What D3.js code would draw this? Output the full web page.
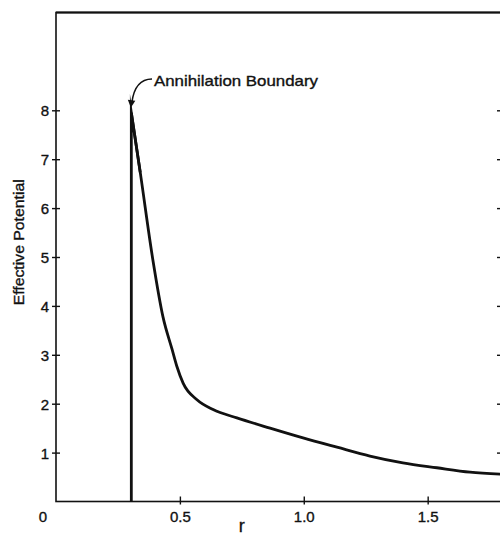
<!DOCTYPE html>
<html>
<head>
<meta charset="utf-8">
<script src="https://cdn.jsdelivr.net/npm/d3@7"></script>
<style>
html,body{margin:0;padding:0;background:#fff;overflow:hidden;}
svg{display:block;}
text{font-family:"Liberation Sans",Arial,sans-serif;fill:#111;stroke:#111;stroke-width:0.35;}
</style>
</head>
<body>
<svg id="chart" width="500" height="538"></svg>
<script>
// Data
const rValues = [0.304, 0.304, 0.340, 0.391, 0.432, 0.468, 0.488, 0.513, 0.569, 0.634, 0.730, 0.864, 0.997, 1.134, 1.267, 1.400, 1.537, 1.671, 1.800];
const potentialValues = [0.0, 7.95, 6.73, 4.94, 3.77, 3.12, 2.76, 2.42, 2.08, 1.88, 1.71, 1.50, 1.30, 1.11, 0.93, 0.79, 0.69, 0.60, 0.56];
const xTickValues = [0.5, 1.0, 1.5];
const xTickLabels = ["0.5", "1.0", "1.5"];
const yTickValues = [1, 2, 3, 4, 5, 6, 7, 8];
const yTickLabels = ["1", "2", "3", "4", "5", "6", "7", "8"];
const xTitle = "r";
const yTitle = "Effective Potential";
const annotationText = "Annihilation Boundary";

const svg = d3.select("#chart");
const x = d3.scaleLinear().domain([0, 1.8]).range([56, 502]);
const y = d3.scaleLinear().domain([0, 10]).range([501.5, 12.5]);

const ink = "#111";

// frame
svg.append("rect")
  .attr("x", x(0)).attr("y", y(10))
  .attr("width", x(1.8) - x(0)).attr("height", y(0) - y(10))
  .attr("fill", "none").attr("stroke", ink).attr("stroke-width", 1.6);
svg.append("line")
  .attr("x1", x(0)).attr("x2", 500).attr("y1", y(10)).attr("y2", y(10))
  .attr("stroke", ink).attr("stroke-width", 2.2);

// left axis
const yAxis = d3.axisLeft(y).tickValues(yTickValues)
  .tickFormat((d, i) => yTickLabels[i]).tickSizeOuter(0).tickSize(4).tickPadding(4);
const gy = svg.append("g").attr("transform", `translate(${x(0)},0)`).call(yAxis);
gy.select(".domain").remove();
gy.selectAll(".tick line").attr("x1", -4).attr("x2", 4).attr("stroke", ink).attr("stroke-width", 1.4);
gy.selectAll(".tick text").attr("font-size", 15).attr("fill", ink).attr("dy", "0.36em")
  .attr("font-family", "Liberation Sans, Arial, sans-serif").attr("x", -7);

// right ticks
const yAxisR = d3.axisRight(y).tickValues(yTickValues).tickFormat("").tickSize(4);
const gyr = svg.append("g").attr("transform", `translate(${x(1.8)},0)`).call(yAxisR);
gyr.select(".domain").remove();
gyr.selectAll(".tick line").attr("x1", -5).attr("x2", 0).attr("stroke", ink).attr("stroke-width", 1.4);

// bottom axis
const xAxis = d3.axisBottom(x).tickValues(xTickValues)
  .tickFormat((d, i) => xTickLabels[i]).tickSizeOuter(0).tickSize(4).tickPadding(8);
const gx = svg.append("g").attr("transform", `translate(0,${y(0)})`).call(xAxis);
gx.select(".domain").remove();
gx.selectAll(".tick line").attr("y1", -5).attr("y2", 3).attr("stroke", ink).attr("stroke-width", 1.4);
gx.selectAll(".tick text").attr("font-size", 15).attr("fill", ink)
  .attr("font-family", "Liberation Sans, Arial, sans-serif").attr("y", 10);

// origin label
svg.append("text").attr("x", 43).attr("y", 522).attr("text-anchor", "middle")
  .attr("font-size", 15).text("0");

// axis titles
svg.append("text").attr("x", x(0.75)).attr("y", 532).attr("text-anchor", "middle")
  .attr("font-size", 18).text(xTitle);
svg.append("text")
  .attr("transform", `translate(24,${y(5.3)}) rotate(-90)`)
  .attr("text-anchor", "middle").attr("font-size", 14)
  .attr("textLength", 126).attr("lengthAdjust", "spacingAndGlyphs")
  .text(yTitle);

// curve: vertical boundary segment + descending potential
const pts = rValues.map((r, i) => [r, potentialValues[i]]);
svg.append("path")
  .attr("d", d3.line().x(d => x(d[0])).y(d => y(d[1]))(pts.slice(0, 3)))
  .attr("fill", "none").attr("stroke", ink).attr("stroke-width", 2.8)
  .attr("stroke-linejoin", "miter").attr("stroke-miterlimit", 20);
svg.append("path")
  .attr("d", d3.line().x(d => x(d[0])).y(d => y(d[1])).curve(d3.curveMonotoneX)(pts.slice(1)))
  .attr("fill", "none").attr("stroke", ink).attr("stroke-width", 2.8)
  .attr("stroke-linecap", "butt");

// annotation
const peakX = x(rValues[1]), peakY = y(potentialValues[1]);
svg.append("text").attr("x", 154).attr("y", 86).attr("font-size", 15)
  .attr("textLength", 164).attr("lengthAdjust", "spacingAndGlyphs")
  .text(annotationText);
svg.append("path")
  .attr("d", `M152,79 C141,79 134,86 ${peakX + 0.5},${peakY - 10}`)
  .attr("fill", "none").attr("stroke", ink).attr("stroke-width", 1.5);
svg.append("path")
  .attr("d", `M${peakX - 3.5},${peakY - 13} L${peakX - 0.5},${peakY - 5} L${peakX + 4},${peakY - 12} Z`)
  .attr("fill", ink);
</script>
</body>
</html>
